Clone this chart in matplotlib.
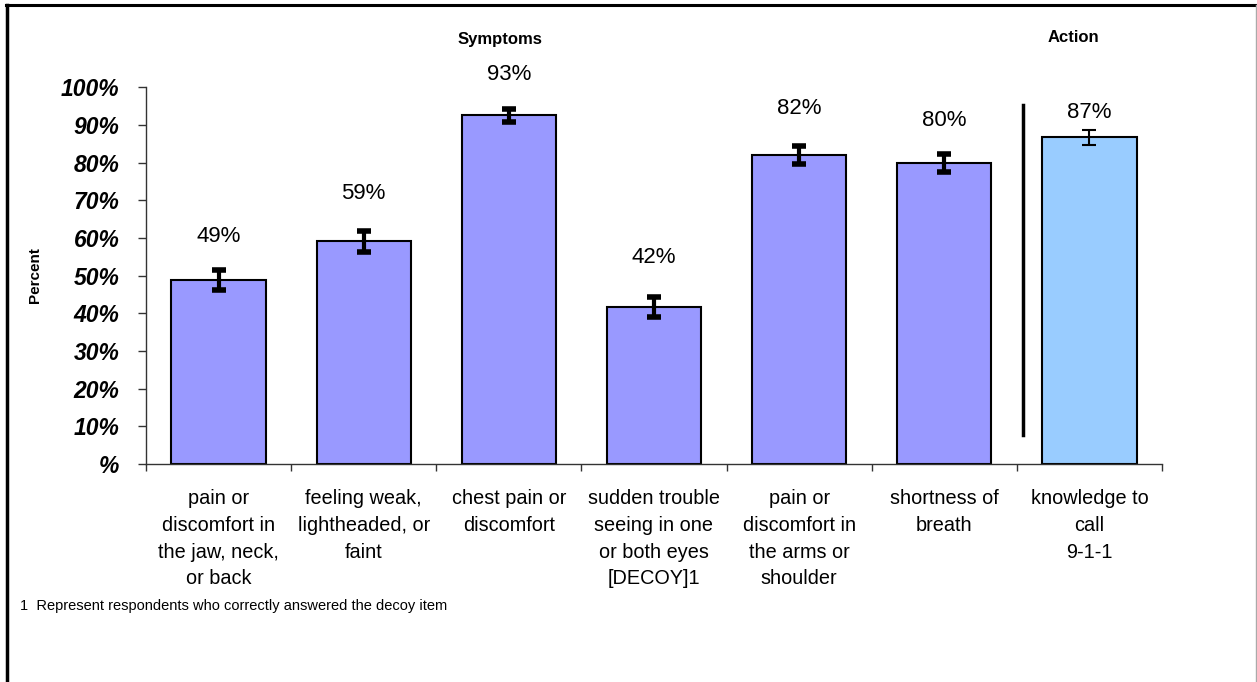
import numpy as np
import matplotlib.pyplot as plt
from matplotlib.lines import Line2D

plt.rcParams["font.family"] = ["Liberation Sans", "DejaVu Sans"]

categories = [
    "pain or\ndiscomfort in\nthe jaw, neck,\nor back",
    "feeling weak,\nlightheaded, or\nfaint",
    "chest pain or\ndiscomfort",
    "sudden trouble\nseeing in one\nor both eyes\n[DECOY]1",
    "pain or\ndiscomfort in\nthe arms or\nshoulder",
    "shortness of\nbreath",
    "knowledge to\ncall\n9-1-1",
]
values = [48.8, 59.1, 92.6, 41.7, 82.0, 79.8, 86.7]
errors = [2.7, 2.7, 1.7, 2.6, 2.4, 2.4, 1.9]
labels = ["49%", "59%", "93%", "42%", "82%", "80%", "87%"]
groups = ["Symptoms"] * 6 + ["Action"]
yticks = [0, 10, 20, 30, 40, 50, 60, 70, 80, 90, 100]
ytick_labels = ["%"] + [f"{t}%" for t in yticks[1:]]
footnote = "1  Represent respondents who correctly answered the decoy item"

# label height above bar top, in % units
label_off = [11.5, 12.8, 10.8, 13.0, 12.5, 11.5, 6.5]

colors = {"Symptoms": "#9999FF", "Action": "#99CCFF"}

fig = plt.figure(figsize=(12.57, 6.82), dpi=100)
ax = fig.add_axes([146 / 1257, 218 / 682, 1016 / 1257, 376.7 / 682])

x = np.arange(len(values))
for i in x:
    g = groups[i]
    ax.bar(i, values[i], width=0.65, color=colors[g], edgecolor="black",
           linewidth=1.5, zorder=2)
    lw = 3 if g == "Symptoms" else 1.5
    ax.errorbar(i, values[i], yerr=errors[i], fmt="none", ecolor="black",
                elinewidth=lw, capsize=5,
                capthick=lw + 1 if g == "Symptoms" else lw, zorder=3)
    ax.text(i, values[i] + label_off[i], labels[i], ha="center", va="center",
            fontsize=16)

ax.set_xlim(-0.5, len(values) - 0.5)
ax.set_ylim(0, 100)
ax.set_yticks(yticks)
ax.set_yticklabels(ytick_labels, fontsize=16.5, fontweight="bold", fontstyle="italic")
ax.tick_params(axis="y", length=6, width=1, pad=13, colors="#333333", labelcolor="black")

ax.set_xticks(np.arange(-0.5, len(values)), labels=[""] * (len(values) + 1))
ax.set_xticks(x, labels=categories, minor=True, fontsize=14.3, linespacing=1.52)
ax.tick_params(axis="x", which="major", length=5, width=1, colors="#333333")
ax.tick_params(axis="x", which="minor", length=0, pad=18)

for s in ["top", "right"]:
    ax.spines[s].set_visible(False)
for s in ["left", "bottom"]:
    ax.spines[s].set_color("#333333")
    ax.spines[s].set_linewidth(1)

# group headers and divider
ax.text(1.94, 112.6, "Symptoms", ha="center", va="center", fontsize=12,
        fontweight="bold", clip_on=False)
ax.text(5.89, 113.1, "Action", ha="center", va="center", fontsize=12,
        fontweight="bold", clip_on=False)
ax.plot([5.54, 5.54], [7.7, 95.3], color="black", lw=2.5, clip_on=False)

fig.text(35 / 1257, 1 - 275 / 682, "Percent", rotation=90, ha="center",
         va="center", fontsize=11, fontweight="bold")
fig.text(20 / 1257, 1 - 606 / 682, footnote, ha="left", va="center", fontsize=10.5)

# outer frame
W, H = 1257, 682
fig.add_artist(Line2D([7 / W, 7 / W], [0, 1 - 5 / H], color="black", lw=2.5,
                      transform=fig.transFigure))
fig.add_artist(Line2D([6 / W, 1256 / W], [1 - 5 / H, 1 - 5 / H], color="black",
                      lw=2.2, transform=fig.transFigure))
fig.add_artist(Line2D([1255.5 / W, 1255.5 / W], [0, 1 - 5 / H], color="#aaaaaa",
                      lw=1, transform=fig.transFigure))

fig.savefig("out.png", dpi=100)
